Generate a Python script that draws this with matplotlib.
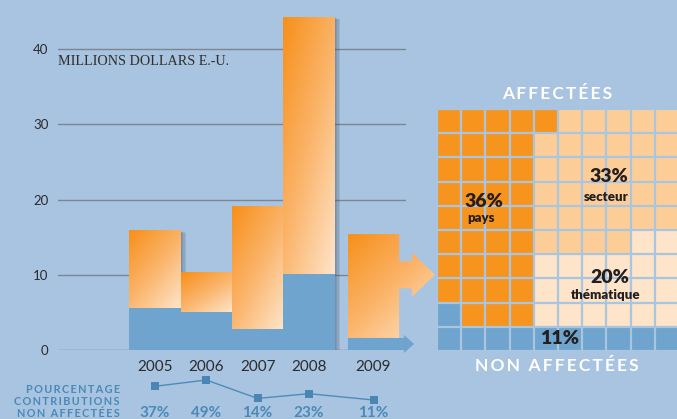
import numpy as np
import matplotlib.pyplot as plt
import matplotlib.patheffects as pe
from matplotlib.colors import LinearSegmentedColormap, to_rgb
from matplotlib.patches import Polygon, Rectangle

# ================= DATA =================
years = ["2005", "2006", "2007", "2008", "2009"]
total = [15.9, 10.4, 19.1, 44.3, 15.4]          # millions USD
non_affect = [5.6, 5.1, 2.8, 10.1, 1.6]         # unearmarked part
pct_non_affect = [37, 49, 14, 23, 11]
x_pos = [0, 1, 2, 3, 4.26]
yticks = [0, 10, 20, 30, 40]

# 2009 breakdown (waffle, one cell = 1%)
shares = {"P": 36, "S": 33, "T": 20, "N": 11}
share_names = {"P": "pays", "S": "secteur", "T": "thématique", "N": ""}
waffle_rows = [
    "PPPPPSSSSS",
    "PPPPSSSSSS",
    "PPPPSSSSSS",
    "PPPPSSSSSS",
    "PPPPSSSSSS",
    "PPPPSSSSTT",
    "PPPPTTTTTT",
    "PPPPTTTTTT",
    "NPPPTTTTTT",
    "NNNNNNNNNN",
]

# ================= STYLE =================
BG = "#a8c4e0"
BLUE = "#6ea4cd"
TXT_BLUE = "#4a89b8"
GRID = "#7c8590"
cell_colors = {"P": "#f7941d", "S": "#fdcd98", "T": "#fee4c8", "N": BLUE}
orange_cmap = LinearSegmentedColormap.from_list("og", ["#f7901a", "#fbb46a", "#fee4c9"])

plt.rcParams["font.family"] = ["Lato", "DejaVu Sans"]

fig = plt.figure(figsize=(6.77, 4.19), dpi=100, facecolor=BG)

# ================= BAR CHART =================
ax = fig.add_axes([58 / 677, 69 / 419, 348 / 677, 46 * 7.525 / 419])
ax.set_facecolor("none")
ax.set_xlim(-1.891, 4.893)
ax.set_ylim(0, 46)
for s in ax.spines.values():
    s.set_visible(False)

for y in yticks:
    ax.axhline(y, color=GRID, lw=1, zorder=0)

ax.set_yticks(yticks)
ax.set_xticks(x_pos, years)
ax.tick_params(length=0, labelcolor="#2b2b2b")
ax.tick_params(axis="y", pad=7, labelsize=9.5)
ax.tick_params(axis="x", pad=7, labelsize=11)

shadow = [pe.SimplePatchShadow(offset=(o, -o / 2), shadow_rgbFace="#33475c", alpha=0.12)
          for o in (1, 2, 3, 4)]


def gradient(n=60):
    u = np.linspace(0, 1, n)
    return (u[None, :] * 0.45 + u[:, None] * 0.55)


w = 1.0
for i, x in enumerate(x_pos):
    x0, x1 = x - w / 2, x + w / 2
    if i < 4:
        base = Rectangle((x0, 0), w, total[i], facecolor=BLUE, lw=0, zorder=2)
        base.set_path_effects(shadow + [pe.Normal()])
        ax.add_patch(base)
        ax.bar(x, non_affect[i], width=w, color=BLUE, lw=0, zorder=3)
        im = ax.imshow(gradient(), cmap=orange_cmap, aspect="auto", zorder=3,
                       extent=(x0, x1, non_affect[i], total[i]))
        im.set_clip_path(Rectangle((x0, non_affect[i]), w, total[i] - non_affect[i],
                                   transform=ax.transData))
    else:
        # 2009: orange part flows into an arrow towards the waffle
        yc, bh, hh = 10.0, 1.8, 2.95
        xh, xt = x1 + 0.245, x1 + 0.70
        orange_poly = [(x0, non_affect[i]), (x1, non_affect[i]), (x1, yc - bh),
                       (xh, yc - bh), (xh, yc - hh), (xt, yc), (xh, yc + hh),
                       (xh, yc + bh), (x1, yc + bh), (x1, total[i]), (x0, total[i])]
        clip = Polygon(orange_poly, closed=True, transform=ax.transData)
        im = ax.imshow(gradient(), cmap=orange_cmap, aspect="auto", zorder=3,
                       extent=(x0, xt, non_affect[i], total[i]))
        im.set_clip_box(fig.bbox)
        im.set_clip_path(clip)
        bc = non_affect[i] / 2
        blue_poly = [(x0, 0), (x1 + 0.094, 0), (x1 + 0.094, bc - 1.2),
                     (x1 + 0.29, bc), (x1 + 0.094, bc + 1.2),
                     (x1 + 0.094, non_affect[i]), (x0, non_affect[i])]
        ax.add_patch(Polygon(blue_poly, closed=True, facecolor=BLUE, lw=0,
                             zorder=3, clip_on=False))

ax.text(0.0, 38.4, "MILLIONS DOLLARS E.-U.", transform=ax.get_yaxis_transform(),
        family="Liberation Serif", fontsize=10.2, color="#2f2f2f", va="center", ha="left")

# ================= % NON AFFECTEES LINE =================
axp = fig.add_axes([58 / 677, 13.2 / 419, 348 / 677, 31.6 / 419], sharex=ax)
axp.set_ylim(0, 60)
axp.axis("off")
axp.plot(x_pos, pct_non_affect, color="#4f8bb8", lw=1, marker="s", markersize=5.5,
         markerfacecolor="#4a86b4", markeredgewidth=0, clip_on=False)
for x, p in zip(x_pos, pct_non_affect):
    ax.annotate(f"{p}%", xy=(x, 6), xycoords=("data", "figure pixels"),
                ha="center", va="center", fontsize=11, fontweight="bold", color=TXT_BLUE)

spaced = lambda s: "\u2009".join(s)
for txt, yy in [("POURCENTAGE", 30), ("CONTRIBUTIONS", 18), ("NON AFFECTÉES", 6)]:
    fig.text(120 / 677, yy / 419, spaced(txt), ha="right", va="center",
             fontsize=7.8, fontweight="bold", color=TXT_BLUE)

# ================= WAFFLE =================
axw = fig.add_axes([437 / 677, 68 / 419, 242 / 677, 242 / 419])
img = np.array([[to_rgb(cell_colors[c]) for c in row] for row in waffle_rows])
axw.imshow(img, extent=(0, 10, 10, 0), aspect="auto", interpolation="nearest")
for k in range(11):
    axw.axhline(k, color="#a9c5e0", lw=1.6)
    axw.axvline(k, color="#a9c5e0", lw=1.6)
axw.set_xlim(0, 10)
axw.set_ylim(10, 0)
axw.axis("off")

lab_kw = dict(color="#231f20", fontweight="heavy", clip_on=False)
axw.text(1.15, 3.83, f"{shares['P']}%", ha="left", va="center", fontsize=14, **lab_kw)
axw.text(1.25, 4.5, share_names["P"], ha="left", va="center", fontsize=9.5, **lab_kw)
axw.text(7.1, 2.8, f"{shares['S']}%", ha="center", va="center", fontsize=14, **lab_kw)
axw.text(6.98, 3.62, share_names["S"], ha="center", va="center", fontsize=9.5, **lab_kw)
axw.text(7.14, 6.98, f"{shares['T']}%", ha="center", va="center", fontsize=14, **lab_kw)
axw.text(6.98, 7.69, share_names["T"], ha="center", va="center", fontsize=9.5, **lab_kw)
axw.text(5.08, 9.5, f"{shares['N']}%", ha="center", va="center", fontsize=14, **lab_kw)

axw.text(4.98, -0.62, spaced("AFFECTÉES"), ha="center", va="center", fontsize=12.5,
         fontweight="bold", color="white", clip_on=False)
axw.text(4.95, 10.62, spaced("NON AFFECTÉES"), ha="center", va="center", fontsize=12.5,
         fontweight="bold", color="white", clip_on=False)

fig.savefig("out.png", dpi=100, facecolor=BG)
